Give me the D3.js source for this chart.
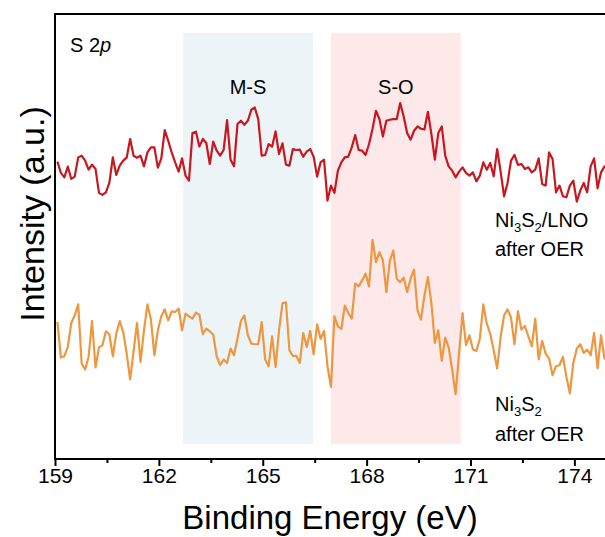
<!DOCTYPE html>
<html>
<head>
<meta charset="utf-8">
<script src="https://cdn.jsdelivr.net/npm/d3@7/dist/d3.min.js"></script>
<style>
  html, body { margin: 0; padding: 0; background: #fff; }
  svg { display: block; }
  text { font-family: Arial, "Liberation Sans", sans-serif; fill: #000; }
</style>
</head>
<body>
<svg id="chart" width="605" height="537"></svg>
<script>
// ---- data ----
const energies = [
159.07,159.17,159.27,159.37,159.47,159.57,159.67,159.77,159.87,159.97,
160.07,160.17,160.27,160.37,160.47,160.57,160.67,160.77,160.87,160.97,
161.07,161.17,161.27,161.37,161.47,161.57,161.67,161.77,161.87,161.97,
162.07,162.17,162.27,162.37,162.47,162.57,162.67,162.77,162.87,162.97,
163.07,163.17,163.27,163.37,163.47,163.57,163.67,163.77,163.87,163.97,
164.07,164.17,164.27,164.37,164.47,164.57,164.67,164.77,164.87,164.97,
165.07,165.17,165.27,165.37,165.47,165.57,165.67,165.77,165.87,165.97,
166.07,166.17,166.27,166.37,166.47,166.57,166.67,166.77,166.87,166.97,
167.07,167.17,167.27,167.37,167.47,167.57,167.67,167.77,167.87,167.97,
168.07,168.17,168.27,168.37,168.47,168.57,168.67,168.77,168.87,168.97,
169.07,169.17,169.27,169.37,169.47,169.57,169.67,169.77,169.87,169.97,
170.07,170.17,170.27,170.37,170.47,170.57,170.67,170.77,170.87,170.97,
171.07,171.17,171.27,171.37,171.47,171.57,171.67,171.77,171.87,171.97,
172.07,172.17,172.27,172.37,172.47,172.57,172.67,172.77,172.87,172.97,
173.07,173.17,173.27,173.37,173.47,173.57,173.67,173.77,173.87,173.97,
174.07,174.17,174.27,174.37,174.47,174.57,174.67,174.77,174.87,174.97
];

// Ni3S2/LNO after OER (offset trace, a.u.)
const lnoIntensity = [
298,286.7,282.3,293,280.7,283,302.3,304,299,290,
295,290.7,266.7,264.7,267.3,276.7,302.3,284.7,294,299,
302,320.7,304,302,304,293.3,307.3,312.3,312.3,292,
301.3,329.7,319,307.3,297.3,288,301.3,284,279,326.7,
328,313.3,320.7,316.7,295.7,318,309,304,309.7,339.7,
300,293.3,335.7,339,335,339,350,352.3,340.7,304,
304.7,315.7,313,328.3,305.7,316.3,295,294,310.7,309.7,
310,303,308,310.7,303,283,297.3,300,259,274,
266.7,289,297.3,302.3,303,312.3,324.7,309.7,309,304.7,
315.7,330.7,349,340.7,323.3,339,340,340.7,340.7,356.7,
343.3,326.7,320,329,333.3,331,330.3,348,325.7,300,
326.7,333.3,304,293.3,289,282.3,288,292.3,286.7,284,
287.3,278.3,284,297.3,290,296.7,283.3,310.7,288,263.3,
276.7,299,304.7,294.7,295.7,290.7,292.3,287.3,290,301.3,
275.7,274,307.3,300.7,267.3,274,263.3,262.3,274,279,
258,269,276.7,267.3,293.3,301.3,271.3,287.3,293.3,290
];

// Ni3S2 after OER (a.u.)
const ni3s2Intensity = [
137.3,101.7,103,112.3,136.3,144,155,95.7,89.7,102.3,
138.3,91.7,111.7,114,128,125,103,125.7,138.3,127.3,
105.7,79.7,108.3,136.3,97.3,129,155,139.7,104,129,
143,150,139,148,147.3,150.7,129,145.7,143,140.7,
146.7,144.7,125,130.7,128,124.7,103,94,99.7,96.3,
110.7,104,120.7,138.3,144,124,115.7,115,115,137.3,
99.7,93,123,92.3,129,156.3,157,109,103.3,103.3,
96.3,126.3,112.3,128.3,105,135,120.3,128.3,93,72.3,
143,133,130.3,153.7,146.3,140.7,175.7,173,179,185.7,
173,219.7,197.3,207.3,199,167.3,198.3,209,180.7,177.3,
181.7,167.3,180.7,189.7,149,139.7,164,182.3,156.3,116.3,
129,98.3,121.7,111.7,89.7,65,105.7,146.3,114,124,
109.7,108.3,120.7,155,135.7,125.7,109,90.7,122.3,144,
150,141.7,115,148.3,129.7,133.3,123,113,140.7,99.7,
118.3,105.7,100.7,84,93,94,102.3,82.3,65.7,96.3,
110.7,115,106.3,109.7,104,126.3,90.7,124,100.7,110
];

const xTicks = [159, 162, 165, 168, 171, 174];
const xMinorTicks = [160.5, 163.5, 166.5, 169.5, 172.5];
const xDomain = [159, 175];
const yDomain = [0, 446];

// shaded regions [start, end] in eV
const regionNames = ["M-S", "S-O"];
const regionStart = [162.7, 166.97];
const regionEnd = [166.45, 170.72];

// ---- layout ----
const svg = d3.select("#chart");
const L = 55, T = 14, B = 459, R = 609;

const x = d3.scaleLinear().domain(xDomain).range([L, R]);
const y = d3.scaleLinear().domain(yDomain).range([B, T]);

// shaded bands
const bandColors = ["#ecf4f8", "#fde9ea"];
svg.selectAll("rect.band")
  .data(regionNames)
  .join("rect")
  .attr("class", "band")
  .attr("x", (d, i) => x(regionStart[i]))
  .attr("width", (d, i) => x(regionEnd[i]) - x(regionStart[i]))
  .attr("y", 33)
  .attr("height", 444 - 33)
  .attr("fill", (d, i) => bandColors[i]);

svg.selectAll("text.band-label")
  .data(regionNames)
  .join("text")
  .attr("class", "band-label")
  .attr("x", (d, i) => (x(regionStart[i]) + x(regionEnd[i])) / 2)
  .attr("y", 94)
  .attr("text-anchor", "middle")
  .attr("font-size", 20)
  .text(d => d);

// lines
const line = vals => d3.line()
  .x((d, i) => x(energies[i]))
  .y(d => y(d))(vals);

svg.append("path")
  .attr("d", line(ni3s2Intensity))
  .attr("fill", "none")
  .attr("stroke", "#ef9640")
  .attr("stroke-width", 2.2)
  .attr("stroke-linejoin", "round");

svg.append("path")
  .attr("d", line(lnoIntensity))
  .attr("fill", "none")
  .attr("stroke", "#c8171f")
  .attr("stroke-width", 2.2)
  .attr("stroke-linejoin", "round");

// frame
svg.append("line").attr("x1", L).attr("x2", R).attr("y1", T).attr("y2", T)
  .attr("stroke", "#000").attr("stroke-width", 2);
svg.append("line").attr("x1", L).attr("x2", L).attr("y1", T - 1).attr("y2", B + 1)
  .attr("stroke", "#000").attr("stroke-width", 2);

// x axis
const xAxis = d3.axisBottom(x).tickValues(xTicks).tickSize(7).tickPadding(2).tickFormat(d3.format("d"));
const gx = svg.append("g").attr("transform", `translate(0,${B})`).call(xAxis);
gx.select(".domain").attr("stroke-width", 2).attr("d", `M${L-1},0H${R}`);
gx.selectAll(".tick line").attr("stroke-width", 2);
gx.selectAll(".tick text").attr("font-size", 21).attr("font-family", "Arial, 'Liberation Sans', sans-serif").attr("fill", "#000");
const gm = svg.append("g").attr("transform", `translate(0,${B})`)
  .call(d3.axisBottom(x).tickValues(xMinorTicks).tickSize(4).tickFormat(""));
gm.select(".domain").remove();
gm.selectAll(".tick line").attr("stroke-width", 2);

// axis titles
svg.append("text")
  .attr("x", 330)
  .attr("y", 529)
  .attr("text-anchor", "middle")
  .attr("font-size", 33)
  .text("Binding Energy (eV)");

svg.append("text")
  .attr("transform", `translate(44,214) rotate(-90)`)
  .attr("text-anchor", "middle")
  .attr("font-size", 34)
  .text("Intensity (a.u.)");

// annotations
const s2p = svg.append("text").attr("x", 70).attr("y", 52).attr("font-size", 20);
s2p.append("tspan").text("S 2");
s2p.append("tspan").attr("font-style", "italic").text("p");

function formula(g, xx, yy) {
  const t = g.append("text").attr("x", xx).attr("y", yy).attr("font-size", 20);
  t.append("tspan").text("Ni");
  t.append("tspan").attr("font-size", 13).attr("dy", 5).text("3");
  t.append("tspan").attr("dy", -5).text("S");
  t.append("tspan").attr("font-size", 13).attr("dy", 5).text("2");
  return t;
}
const t1 = formula(svg, 495, 227);
t1.append("tspan").attr("dy", -5).text("/LNO");
svg.append("text").attr("x", 495).attr("y", 256).attr("font-size", 20).text("after OER");

formula(svg, 495, 411);
svg.append("text").attr("x", 495).attr("y", 441).attr("font-size", 20).text("after OER");
</script>
</body>
</html>
